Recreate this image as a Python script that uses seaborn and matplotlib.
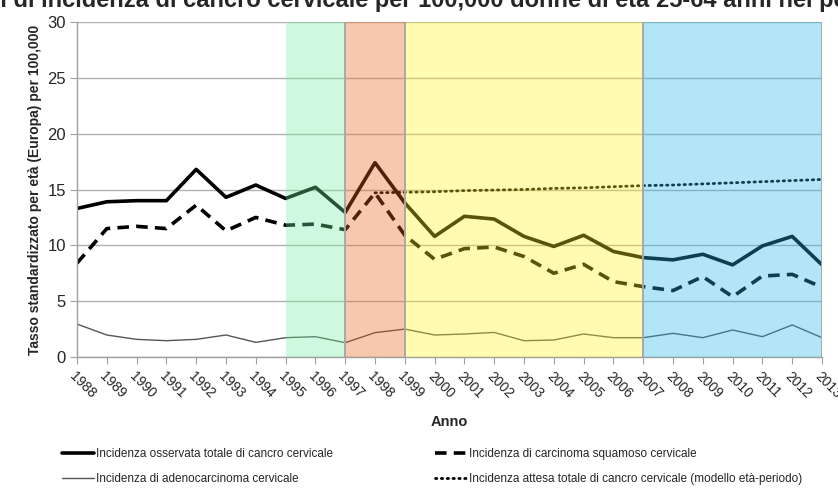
import matplotlib
matplotlib.use("Agg")
import matplotlib.pyplot as plt
from matplotlib import font_manager
import seaborn as sns
import pandas as pd

# Incidence rates (age-standardised, Europe) per 100,000 women
years = list(range(1988, 2014))
year_labels = [str(y) for y in years]
totale_osservata = [13.3, 13.9, 14.0, 14.0, 16.8, 14.3, 15.4, 14.2, 15.2, 12.95,
                    17.4, 13.8, 10.8, 12.6, 12.35, 10.8, 9.9, 10.9, 9.45, 8.9,
                    8.7, 9.2, 8.25, 9.95, 10.8, 8.25]
squamoso = [8.4, 11.5, 11.7, 11.5, 13.6, 11.3, 12.5, 11.8, 11.9, 11.4,
            14.7, 10.9, 8.75, 9.7, 9.85, 9.0, 7.5, 8.3, 6.75, 6.3,
            5.95, 7.2, 5.4, 7.25, 7.4, 6.25]
adenocarcinoma = [2.95, 1.97, 1.58, 1.46, 1.58, 1.97, 1.31, 1.73, 1.82, 1.28,
                  2.18, 2.5, 1.97, 2.06, 2.2, 1.46, 1.52, 2.06, 1.73, 1.73,
                  2.12, 1.73, 2.42, 1.82, 2.87, 1.73]
years_attesa = list(range(1998, 2014))
attesa = [14.7, 14.75, 14.8, 14.9, 14.95, 15.0, 15.1, 15.15, 15.25, 15.35,
          15.4, 15.5, 15.6, 15.7, 15.8, 15.9]

# Screening periods shaded on the chart
period_start = [1995, 1997, 1999, 2007]
period_end = [1997, 1999, 2007, 2013]
period_color = ["#75F0A1", "#ED6317", "#FFF61D", "#24B6E9"]

labels = [
    "Incidenza osservata totale di cancro cervicale",
    "Incidenza di adenocarcinoma cervicale",
    "Incidenza di carcinoma squamoso cervicale",
    "Incidenza attesa totale di cancro cervicale (modello età-periodo)",
]

sns.set_style("white")
installed = {f.name for f in font_manager.fontManager.ttflist}
if "Liberation Sans Narrow" in installed:
    small_font, legend_size, xtick_size = "Liberation Sans Narrow", 9.5, 11
else:
    small_font, legend_size, xtick_size = "Liberation Sans", 8.5, 10
plt.rcParams["font.family"] = [small_font, "DejaVu Sans"]
bold_family = ["Liberation Sans", "DejaVu Sans"]

fig = plt.figure(figsize=(8.38, 4.96), dpi=100)
ax = fig.add_axes([77 / 838, 1 - 357 / 496, (822 - 77) / 838, (357 - 22) / 496])

df = pd.DataFrame({"anno": years, "tot": totale_osservata,
                   "squ": squamoso, "ade": adenocarcinoma})
df_att = pd.DataFrame({"anno": years_attesa, "att": attesa})

sns.lineplot(data=df, x="anno", y="tot", ax=ax, color="black", linewidth=2.6, zorder=2)
h_tot = ax.get_lines()[-1]
sns.lineplot(data=df, x="anno", y="squ", ax=ax, color="black", linewidth=2.6,
             linestyle=(0, (3.2, 2.0)), zorder=2)
h_squ = ax.get_lines()[-1]
sns.lineplot(data=df, x="anno", y="ade", ax=ax, color="#555555", linewidth=1.0, zorder=2)
h_ade = ax.get_lines()[-1]
sns.lineplot(data=df_att, x="anno", y="att", ax=ax, color="black", linewidth=2.0,
             linestyle=(0, (0.5, 1.6)), dash_capstyle="round", zorder=2)
h_att = ax.get_lines()[-1]

# translucent period bands laid over lines and grid
for s, e, c in zip(period_start, period_end, period_color):
    ax.axvspan(s, e, color=c, alpha=0.35, lw=0, zorder=3)
for xv in [1997, 1999, 2007, 2013]:
    ax.axvline(xv, color="#a8a8a8", lw=1.4, zorder=4)

ax.set_xlim(1988, 2013)
ax.set_ylim(0, 30)
ax.set_yticks([0, 5, 10, 15, 20, 25, 30])
ax.yaxis.grid(True, color="#b0b0b0", lw=1.0, zorder=1)
ax.set_axisbelow(True)
ax.set_xticks(years)
ax.set_xticklabels(year_labels, rotation=-45, ha="left", va="top",
                   rotation_mode="anchor", fontsize=xtick_size)
ax.tick_params(axis="y", labelsize=12, length=5, color="#a0a0a0", pad=3,
               direction="out", left=True)
ax.tick_params(axis="x", length=5, color="#a0a0a0", pad=4, direction="out", bottom=True)
for side in ["top", "right"]:
    ax.spines[side].set_visible(False)
for side in ["left", "bottom"]:
    ax.spines[side].set_color("#a0a0a0")
    ax.spines[side].set_linewidth(1.0)

ax.set_xlabel("Anno", fontsize=10.5, fontweight="bold", family=bold_family, labelpad=10)
ax.set_ylabel("Tasso standardizzato per età (Europa) per 100,000", fontsize=10,
              fontweight="bold", family=bold_family, labelpad=4)

leg_kw = dict(frameon=False, loc="upper left", fontsize=legend_size, handlelength=2.7,
              handletextpad=0.2, labelspacing=1.12, borderpad=0, borderaxespad=0)
fig.legend([h_tot, h_ade], labels[:2], bbox_to_anchor=(62 / 838, 1 - 448 / 496), **leg_kw)
fig.legend([h_squ, h_att], labels[2:], bbox_to_anchor=(435 / 838, 1 - 448 / 496), **leg_kw)

# title line running off the top edge
title = "Tassi di incidenza di cancro cervicale per 100,000 donne di età 25-64 anni nel periodo 1988-2013"
tfont = dict(fontsize=17, fontweight="bold", family=bold_family)
renderer = fig.canvas.get_renderer()
probe = fig.text(0, 0, "Tassi ", **tfont)
w_prefix = probe.get_window_extent(renderer).width
probe.remove()
fig.text((14 - w_prefix) / 838, 1 - 7 / 496, title, ha="left", va="baseline", **tfont)

fig.savefig("out.png", dpi=100)
